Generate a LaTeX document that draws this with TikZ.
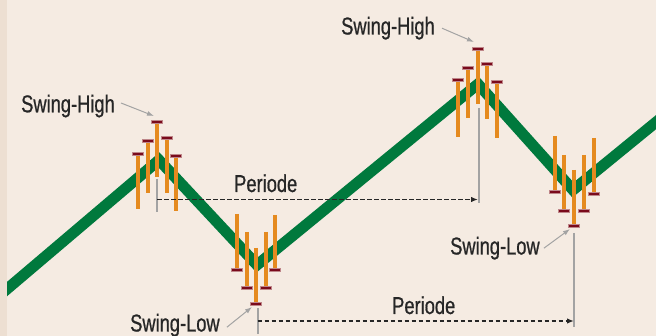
\documentclass[tikz,border=0pt]{standalone}
\usepackage{fontspec}
\newfontfamily\labelfont[FakeStretch=0.75,FakeBold=0.7]{Liberation Sans}
\usetikzlibrary{arrows.meta,calc}

\definecolor{paper}{HTML}{F5EBE2}
\definecolor{paperedge}{HTML}{EDDFD2}
\definecolor{trendgreen}{HTML}{00793D}
\definecolor{wickorange}{HTML}{E58A1F}
\definecolor{capred}{HTML}{7A0A1C}
\definecolor{guidegray}{HTML}{A3A3A3}
\definecolor{inkgray}{HTML}{262626}

% candle with its cap on top / at the bottom: x, top, bottom
\newcommand{\highcandle}[3]{%
  \draw[wick] (#1,#2) -- (#1,#3);
  \filldraw[capmark] (#1-5.25,#2-1.75) rectangle (#1+5.25,#2+1.75);}
\newcommand{\lowcandle}[3]{%
  \draw[wick] (#1,#2) -- (#1,#3);
  \filldraw[capmark] (#1-5.25,#3-1.75) rectangle (#1+5.25,#3+1.75);}

\begin{document}
\begin{tikzpicture}[
    x=1pt, y=-1pt,
    trend/.style={draw=trendgreen, line width=11pt, line join=miter},
    wick/.style={draw=wickorange, line width=4.5pt},
    capmark/.style={fill=capred, draw=capred!45!paper, line width=0.6pt},
    guide/.style={draw=guidegray, line width=2pt},
    callout/.style={draw=guidegray, line width=1pt, -{Latex[length=7pt,width=5pt]}},
    span/.style={draw=inkgray, line width=1.8pt, dash pattern=on 4.5pt off 2.5pt, -{Latex[length=7pt,width=5.5pt]}},
    lbl/.style={font=\labelfont\fontsize{24.4}{28}\selectfont, text=inkgray, inner sep=0pt, anchor=base west}
]
    \useasboundingbox (0,0) rectangle (656,336);
    \fill[paper] (0,0) rectangle (656,336);

    % trend line
    \begin{scope}
        \clip (0,0) rectangle (656,336);
        \draw[trend] (0,295) -- (159,160) -- (257,265) -- (478,84) -- (573,190) -- (666,114);
    \end{scope}
    \fill[paperedge] (0,0) rectangle (7,336);

    % candles
    \highcandle{138}{154}{209}
    \highcandle{148}{141}{193}
    \highcandle{157}{122}{177}
    \highcandle{167}{138}{193}
    \highcandle{176}{156}{211}

    \lowcandle{237}{214}{270}
    \lowcandle{247}{232}{288}
    \lowcandle{256}{248}{304}
    \lowcandle{266}{232}{288}
    \lowcandle{275}{215}{270}

    \highcandle{458}{80}{137}
    \highcandle{468}{68}{118}
    \highcandle{478}{49}{104}
    \highcandle{487}{64}{119}
    \highcandle{497}{82}{138}

    \lowcandle{555}{136}{192}
    \lowcandle{564}{155}{211}
    \lowcandle{574}{170}{226}
    \lowcandle{584}{155}{211}
    \lowcandle{594}{138}{194}

    % guides and periods
    \coordinate (g1a) at (157,179);   \coordinate (g1b) at (157,212);
    \coordinate (g2a) at (257.5,308); \coordinate (g2b) at (257.5,334);
    \coordinate (g3a) at (478.5,108); \coordinate (g3b) at (478.5,203);
    \coordinate (g4a) at (574,233);   \coordinate (g4b) at (574,327);
    \draw[guide] (g1a) -- (g1b);
    \draw[guide] (g2a) -- (g2b);
    \draw[guide] (g3a) -- (g3b);
    \draw[guide] (g4a) -- (g4b);

    \coordinate (p1a) at (157,199.5); \coordinate (p1b) at (478,199.5);
    \coordinate (p2a) at (257.5,321); \coordinate (p2b) at (574,321);
    \draw[span] (p1a) -- (p1b);
    \draw[span] (p2a) -- (p2b);

    % labels
    \node[lbl] (sh1) at (21,112.3) {Swing-High};
    \node[lbl] (sh2) at (341,34.5) {Swing-High};
    \node[lbl] (sl1) at (130,331.5) {Swing-Low};
    \node[lbl] (sl2) at (450,254.5) {Swing-Low};
    \node[lbl] (per1) at (234,192) {Periode};
    \node[lbl] (per2) at (392,314) {Periode};

    \coordinate (tip1) at (154,116);
    \coordinate (tip2) at (474,42);
    \coordinate (tip3) at (252,307);
    \coordinate (tip4) at (570,229);
    \draw[callout] ([shift={(6,-3)}]sh1.east) -- (tip1);
    \draw[callout] ([shift={(7,0)}]sh2.east) -- (tip2);
    \draw[callout] ([shift={(7,2)}]sl1.east) -- (tip3);
    \draw[callout] ([shift={(4,0)}]sl2.east) -- (tip4);
\end{tikzpicture}
\end{document}
